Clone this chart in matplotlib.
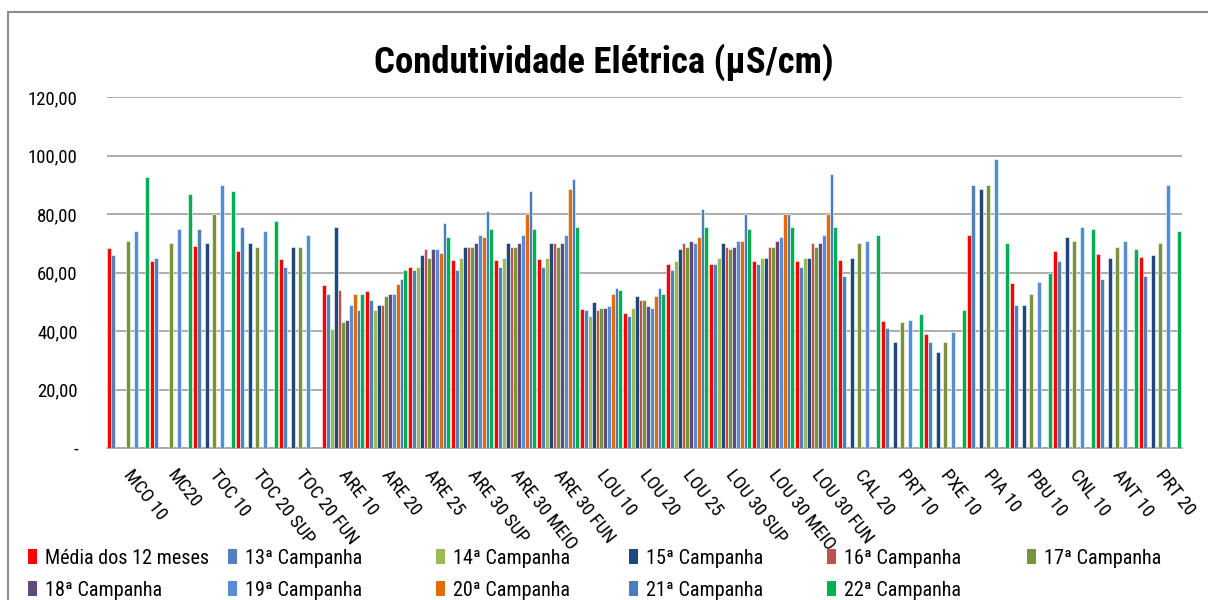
import numpy as np
import matplotlib
matplotlib.use("Agg")
import matplotlib.pyplot as plt
from matplotlib import font_manager as fm
from matplotlib.patches import Rectangle, Patch
from matplotlib.transforms import ScaledTranslation


def pick_font():
    entries = fm.fontManager.ttflist
    names = {f.name for f in entries}
    for p in ["Roboto Condensed", "Liberation Sans Narrow", "Open Sans Condensed",
              "Noto Sans Condensed", "DejaVu Sans Condensed", "Noto Sans SemiCondensed"]:
        if p in names:
            return p, "normal"
    for fam in ["Noto Sans", "Roboto", "Open Sans", "DejaVu Sans"]:
        for f in entries:
            if f.name == fam and f.stretch in ("condensed", "semi-condensed") and f.style == "normal":
                return fam, f.stretch
    return "Lato", "normal"


FONT, STRETCH = pick_font()
plt.rcParams["font.family"] = [FONT, "Lato", "DejaVu Sans"]
plt.rcParams["font.stretch"] = STRETCH

N = np.nan
categories = ["MCO 10", "MC20", "TOC 10", "TOC 20 SUP", "TOC 20 FUN", "ARE 10", "ARE 20",
              "ARE 25", "ARE 30 SUP", "ARE 30 MEIO", "ARE 30 FUN", "LOU 10", "LOU 20",
              "LOU 25", "LOU 30 SUP", "LOU 30 MEIO", "LOU 30 FUN", "CAL 20", "PRT 10",
              "PXE 10", "PIA 10", "PBU 10", "CNL 10", "ANT 10", "PRT 20"]

series_names = ["Média dos 12 meses", "13ª Campanha", "14ª Campanha", "15ª Campanha",
                "16ª Campanha", "17ª Campanha", "18ª Campanha", "19ª Campanha",
                "20ª Campanha", "21ª Campanha", "22ª Campanha"]

media = [68.4, 63.8, 69.2, 67.2, 64.7, 55.6, 53.6, 61.8, 64.3, 64.3, 64.7, 47.4, 46.3,
         63.0, 63.0, 63.8, 63.8, 64.3, 43.5, 39.0, 72.8, 56.5, 67.5, 66.3, 65.4]
c13 = [65.9, 65.1, 74.9, 75.7, 61.8, 52.8, 50.7, 61.0, 61.0, 61.8, 61.8, 47.1, 45.1,
       61.0, 63.0, 63.0, 61.8, 58.9, 41.0, 36.2, 90.0, 48.8, 63.8, 57.7, 58.9]
c14 = [N, N, N, N, N, 40.8, 47.1, 61.8, 65.1, 65.1, 65.1, 45.1, 47.9,
       63.8, 65.1, 65.1, 65.1, N, N, N, N, N, N, N, N]
c15 = [N, N, 70.0, 70.0, 68.7, 75.7, 48.8, 65.9, 68.7, 70.0, 70.0, 49.9, 52.0,
       67.9, 70.0, 65.1, 65.1, 65.1, 36.2, 32.9, 88.7, 48.8, 72.0, 65.1, 65.9]
c16 = [N, N, N, N, N, 54.0, 48.8, 67.9, 68.7, 68.7, 70.0, 47.1, 50.7,
       70.0, 68.7, 68.7, 70.0, N, N, N, N, N, N, N, N]
c17 = [70.9, 70.0, 80.0, 68.7, 68.7, 43.0, 52.0, 65.1, 68.7, 68.7, 68.7, 47.9, 50.7,
       68.7, 67.9, 68.7, 68.7, 70.0, 43.0, 36.2, 90.0, 52.8, 70.9, 68.7, 70.0]
c18 = [N, N, N, N, N, 43.8, 52.8, 67.9, 70.0, 70.0, 70.0, 47.9, 48.7,
       70.8, 68.7, 70.8, 70.0, N, N, N, N, N, N, N, N]
c19 = [74.1, 74.9, 90.0, 74.1, 72.8, 48.8, 52.8, 67.9, 72.8, 72.8, 72.8, 48.7, 47.9,
       70.0, 70.8, 72.0, 72.8, 70.9, 43.8, 39.8, 98.9, 56.9, 75.7, 70.9, 90.0]
c20 = [N, N, N, N, N, 52.8, 56.1, 66.7, 72.0, 80.0, 88.7, 52.8, 52.0,
       72.0, 70.8, 80.0, 80.0, N, N, N, N, N, N, N, N]
c21 = [N, N, N, N, N, 47.1, 57.7, 76.9, 81.0, 87.9, 92.0, 54.8, 54.8,
       81.8, 80.0, 80.0, 93.6, N, N, N, N, N, N, N, N]
c22 = [92.8, 86.7, 87.9, 77.7, N, 52.8, 61.0, 72.0, 74.9, 74.9, 75.7, 54.0, 52.8,
       75.7, 74.9, 75.7, 75.7, 72.8, 45.8, 47.1, 70.0, 59.8, 74.9, 67.9, 74.1]

yticks = [0, 20, 40, 60, 80, 100, 120]
ytick_labels = ["-", "20,00", "40,00", "60,00", "80,00", "100,00", "120,00"]

colors = ["#FF0000", "#4F81BD", "#9BBB59", "#1F497D", "#C0504D", "#77933C",
          "#604A7B", "#558ED5", "#E36C09", "#4A7EBB", "#00B050"]

all_series = [media, c13, c14, c15, c16, c17, c18, c19, c20, c21, c22]

fig = plt.figure(figsize=(12.08, 6.0), dpi=100)
W, H = 1208, 600
ax = fig.add_axes([106.8 / W, 1 - 448 / H, 1075 / W, (448 - 97) / H])

x = np.arange(len(categories))
step = 0.0884
for k, (vals, col) in enumerate(zip(all_series, colors)):
    ax.bar(x + (k - 5) * step, np.array(vals, dtype=float), width=step,
           color=col, edgecolor="white", linewidth=0.4, zorder=3)

ax.set_xlim(-0.5, len(categories) - 0.5)
ax.set_ylim(0, 120)
ax.set_yticks(yticks)
ax.set_yticklabels(ytick_labels, fontsize=13.5)
ax.grid(axis="y", color="#A6A6A6", linewidth=1.3, zorder=0)
ax.set_axisbelow(True)
for s in ["top", "right", "left"]:
    ax.spines[s].set_visible(False)
ax.spines["bottom"].set_color("#A6A6A6")
ax.spines["bottom"].set_linewidth(1.3)
ax.tick_params(axis="y", length=0, pad=21)
ax.tick_params(axis="x", length=0, pad=13)
ax.set_xticks(x)
ax.set_xticklabels(categories, rotation=-52, ha="left", va="top",
                   rotation_mode="anchor", fontsize=13.5)
shift = ScaledTranslation(6 / 100, 0, fig.dpi_scale_trans)
for lab in ax.get_xticklabels():
    lab.set_transform(lab.get_transform() + shift)

fig.text(0.5, 1 - 62 / H, "Condutividade Elétrica (µS/cm)", ha="center", va="center",
         fontsize=26.5, fontweight="bold")

# chart border (top and left edges visible)
fig.patches.append(Rectangle((8 / W, -0.05), 1.2, 1 - 12 / H + 0.05,
                             transform=fig.transFigure, fill=False,
                             edgecolor="#8C8C8C", linewidth=1.5))

# legend entries, laid out as in the reference (6 columns, 2 rows)
col_x = [28, 228, 436, 629, 827, 1027]
row_y = [558, 590]
for i, name in enumerate(series_names):
    r, c = divmod(i, 6)
    fig.legend([Patch(facecolor=colors[i], edgecolor="none")], [name],
               loc="center left", bbox_to_anchor=(col_x[c] / W, 1 - row_y[r] / H),
               frameon=False, fontsize=14.5, handlelength=0.45, handleheight=0.75,
               handletextpad=0.4, borderpad=0, borderaxespad=0)

fig.savefig("out.png", dpi=100)
